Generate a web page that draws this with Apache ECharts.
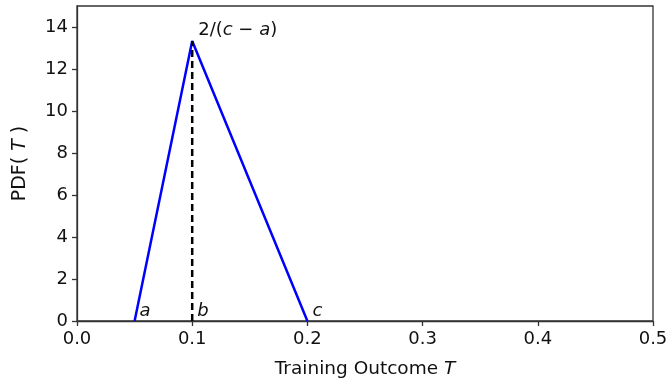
<!DOCTYPE html>
<html><head><meta charset="utf-8">
<script src="https://cdn.jsdelivr.net/npm/echarts@6/dist/echarts.min.js"></script>
<style>html,body{margin:0;padding:0;background:#fff}#c{width:667px;height:385px}</style>
</head><body><div id="c"></div>
<script>
const pdfX = [0.05, 0.1, 0.2];
const pdfY = [0, 13.333, 0];
const modeX = [0.1, 0.1];
const modeY = [0, 13.333];
const pointNames = ['a', 'b', 'c'];
const xTicks = [0, 0.1, 0.2, 0.3, 0.4, 0.5];
const yTicks = [0, 2, 4, 6, 8, 10, 12, 14];

const font = 'DejaVu Sans';
const txt = '#111';
const fs = 18;
const chart = echarts.init(document.getElementById('c'), null, {renderer: 'canvas'});
chart.setOption({
  animation: false,
  grid: {left: 77, right: 14, top: 6, bottom: 64, show: true, borderColor: '#333', borderWidth: 1.3, outerBoundsMode: 'none', containLabel: false},
  xAxis: {
    type: 'value', min: 0, max: 0.5, interval: 0.1,
    name: '{n|Training Outcome }{i|T}', nameLocation: 'middle', nameGap: 39,
    nameTextStyle: {rich: {n: {fontFamily: font, fontSize: 18.5, color: txt}, i: {fontFamily: font, fontSize: 18.5, fontStyle: 'italic', color: txt}}},
    axisLine: {lineStyle: {color: '#333', width: 1.3}},
    axisTick: {show: true, length: 5, lineStyle: {color: '#333', width: 1.3}, customValues: xTicks},
    axisLabel: {fontFamily: font, fontSize: fs, color: txt, margin: 9, customValues: xTicks, formatter: v => v.toFixed(1)},
    splitLine: {show: false}
  },
  yAxis: {
    type: 'value', min: 0, max: 15,
    name: '{n|PDF( }{i|T}{n| )}', nameLocation: 'middle', nameGap: 47, nameRotate: 90,
    nameTextStyle: {rich: {n: {fontFamily: font, fontSize: 19, color: txt}, i: {fontFamily: font, fontSize: 19, fontStyle: 'italic', color: txt}}},
    axisLine: {lineStyle: {color: '#333', width: 1.3}},
    axisTick: {show: true, length: 5, lineStyle: {color: '#333', width: 1.3}, customValues: yTicks},
    axisLabel: {fontFamily: font, fontSize: fs, color: txt, margin: 9, customValues: yTicks},
    splitLine: {show: false}
  },
  series: [
    {
      type: 'line', data: pdfX.map((x, i) => [x, pdfY[i]]),
      symbol: 'none', lineStyle: {color: '#0000ff', width: 2.5}, z: 3
    },
    {
      type: 'line', data: modeX.map((x, i) => [x, modeY[i]]),
      symbol: 'none', lineStyle: {color: '#000', width: 2.5, type: [7, 4]}, z: 4
    },
    {
      type: 'scatter', symbolSize: 0, silent: true, itemStyle: {opacity: 1},
      data: pdfX.map((x, i) => ({value: [x, 0], name: pointNames[i]})),
      label: {show: true, opacity: 1, position: 'right', distance: 5, offset: [0, -10], fontFamily: font, fontSize: 18, fontStyle: 'italic', color: txt, formatter: p => p.name}
    },
    {
      type: 'scatter', symbolSize: 0, silent: true, itemStyle: {opacity: 1},
      data: [[pdfX[1], pdfY[1]]],
      label: {show: true, opacity: 1, position: 'right', distance: 6, offset: [0, -11], fontFamily: font, fontSize: 18, color: txt,
        formatter: '{n|2/(}{i|c}{n| − }{i|a}{n|)}',
        rich: {n: {fontFamily: font, fontSize: 18, color: txt}, i: {fontFamily: font, fontSize: 18, fontStyle: 'italic', color: txt}}}
    }
  ]
});
</script></body></html>
